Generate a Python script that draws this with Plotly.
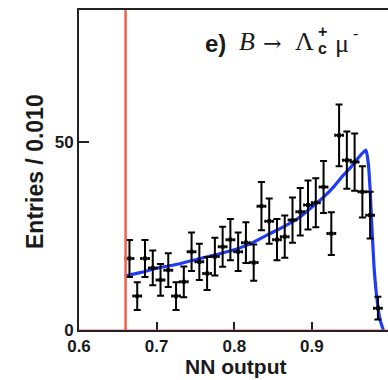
import plotly.graph_objects as go

# ---- data ----
nn_bins = [0.665, 0.675, 0.685, 0.695, 0.705, 0.715, 0.725, 0.735, 0.745, 0.755,
           0.765, 0.775, 0.785, 0.795, 0.805, 0.815, 0.825, 0.835, 0.845, 0.855,
           0.865, 0.875, 0.885, 0.895, 0.905, 0.915, 0.925, 0.935, 0.945, 0.955,
           0.965, 0.975, 0.985]
entries = [19.0, 9.0, 19.0, 16.5, 13.3, 15.9, 9.0, 12.8, 20.8, 18.1,
           15.0, 19.5, 22.1, 24.0, 20.8, 23.2, 17.9, 32.9, 28.9, 24.0,
           24.8, 29.2, 31.4, 33.2, 33.8, 38.0, 25.6, 51.7, 45.1, 44.6,
           36.7, 30.5, 5.8]
entry_err = [4.9, 3.7, 4.9, 4.6, 4.2, 4.5, 3.7, 4.1, 5.1, 4.8,
             4.4, 5.0, 5.3, 5.5, 5.1, 5.4, 4.8, 6.4, 6.0, 5.5,
             5.6, 6.0, 6.3, 6.5, 6.5, 6.9, 5.7, 8.2, 7.6, 7.6,
             6.8, 6.2, 3.0]
bin_half = [0.005] * len(nn_bins)

fit_x = [0.659, 0.680, 0.700, 0.730, 0.756, 0.780, 0.801, 0.822, 0.842, 0.865,
         0.885, 0.902, 0.915, 0.928, 0.940, 0.950, 0.960, 0.9695, 0.9725, 0.975,
         0.977, 0.980, 0.9835, 0.9878, 0.992]
fit_y = [14.3, 15.3, 16.4, 17.6, 19.0, 20.2, 21.4, 23.0, 25.2, 27.6,
         30.1, 33.0, 35.3, 38.0, 41.0, 43.2, 45.8, 47.8, 44.5, 37.2,
         28.4, 16.8, 8.8, 2.7, 0.0]

cut_value = 0.66
x_ticks = [0.6, 0.7, 0.8, 0.9]
x_tick_text = ["0.6", "0.7", "0.8", "0.9"]
y_ticks = [0, 50]
y_tick_text = ["0", "50"]

W, H = 388, 380
ML, MR, MT, MB = 79, 0, 10, 50


def px(x):
    return (x - ML) / (W - ML - MR)


def py(y):
    return (H - MB - y) / (H - MB - MT)


fig = go.Figure()

fig.add_trace(go.Scatter(
    x=fit_x, y=fit_y, mode="lines",
    line=dict(color="#1f3cf5", width=3.2, shape="spline", smoothing=0.5),
    showlegend=False, hoverinfo="skip"))

fig.add_trace(go.Scatter(
    x=nn_bins, y=entries, mode="markers",
    marker=dict(color="black", size=4, symbol="square"),
    error_y=dict(type="data", array=entry_err, color="black", thickness=2, width=3.5),
    error_x=dict(type="data", array=bin_half, color="black", thickness=2, width=1.5),
    showlegend=False))

# cut line
fig.add_shape(type="line", xref="x", yref="paper", x0=cut_value, x1=cut_value,
              y0=0, y1=1, line=dict(color="#f0604a", width=2.5))
fig.add_shape(type="line", xref="paper", yref="y", x0=0, x1=1, y0=0, y1=0,
              line=dict(color="rgba(240,96,74,0.6)", width=1.5))

tickfont = dict(family="Liberation Sans", size=17, color="#1a1a1a", weight="bold")

fig.update_layout(
    width=W, height=H,
    margin=dict(l=ML, r=MR, t=MT, b=MB),
    paper_bgcolor="white", plot_bgcolor="white",
    xaxis=dict(range=[0.6, 0.998], tickvals=x_ticks, ticktext=x_tick_text,
               ticks="inside", ticklen=8, tickwidth=1.5, tickcolor="#222",
               showline=True, linecolor="#222", linewidth=2, mirror=True,
               showgrid=False, zeroline=False, tickfont=tickfont),
    yaxis=dict(range=[0, 85], tickvals=y_ticks, ticktext=y_tick_text,
               ticks="inside", ticklen=10, tickwidth=1.5, tickcolor="#222",
               showline=True, linecolor="#222", linewidth=2, mirror=False,
               showgrid=False, zeroline=False, tickfont=tickfont),
)

# axis titles
fig.add_annotation(xref="paper", yref="paper", x=px(235), y=py(366),
                   text="NN output", showarrow=False, xanchor="center", yanchor="middle",
                   font=dict(family="Liberation Sans", size=21, color="#1a1a1a", weight="bold"))
fig.add_annotation(xref="paper", yref="paper", x=px(35), y=py(172),
                   text="Entries / 0.010", showarrow=False, textangle=-90,
                   xanchor="center", yanchor="middle",
                   font=dict(family="Liberation Sans", size=23, color="#1a1a1a", weight="bold"))
# partially visible "1" tick label
fig.add_annotation(xref="x", yref="paper", x=1.0, y=py(345), text="1",
                   showarrow=False, xanchor="center", yanchor="middle", font=tickfont)

# panel label
serif = dict(family="Liberation Serif", size=26, color="#1a1a1a")
fig.add_annotation(xref="paper", yref="paper", x=px(203), y=py(43),
                   text="e)", showarrow=False, xanchor="left", yanchor="middle",
                   font=dict(family="Liberation Sans", size=24, color="#1a1a1a", weight="bold"))
fig.add_annotation(xref="paper", yref="paper", x=px(237), y=py(42),
                   text="<i>B</i>", showarrow=False, xanchor="left", yanchor="middle", font=serif)
fig.add_annotation(xref="paper", yref="paper", x=px(272), y=py(43),
                   text="\u2192", showarrow=False, xanchor="center", yanchor="middle",
                   font=dict(family="DejaVu Serif", size=22, color="#1a1a1a"))
fig.add_annotation(xref="paper", yref="paper", x=px(293), y=py(42),
                   text="\u039b", showarrow=False, xanchor="left", yanchor="middle", font=serif)
fig.add_annotation(xref="paper", yref="paper", x=px(322), y=py(31),
                   text="+", showarrow=False, xanchor="center", yanchor="middle",
                   font=dict(family="Liberation Sans", size=16, color="#1a1a1a", weight="bold"))
fig.add_annotation(xref="paper", yref="paper", x=px(322), y=py(49),
                   text="c", showarrow=False, xanchor="center", yanchor="middle",
                   font=dict(family="Liberation Sans", size=16, color="#1a1a1a", weight="bold"))
fig.add_annotation(xref="paper", yref="paper", x=px(333), y=py(44),
                   text="\u03bc", showarrow=False, xanchor="left", yanchor="middle", font=serif)
fig.add_annotation(xref="paper", yref="paper", x=px(351), y=py(33),
                   text="-", showarrow=False, xanchor="left", yanchor="middle",
                   font=dict(family="Liberation Serif", size=16, color="#1a1a1a"))

fig.write_html("out.html")
